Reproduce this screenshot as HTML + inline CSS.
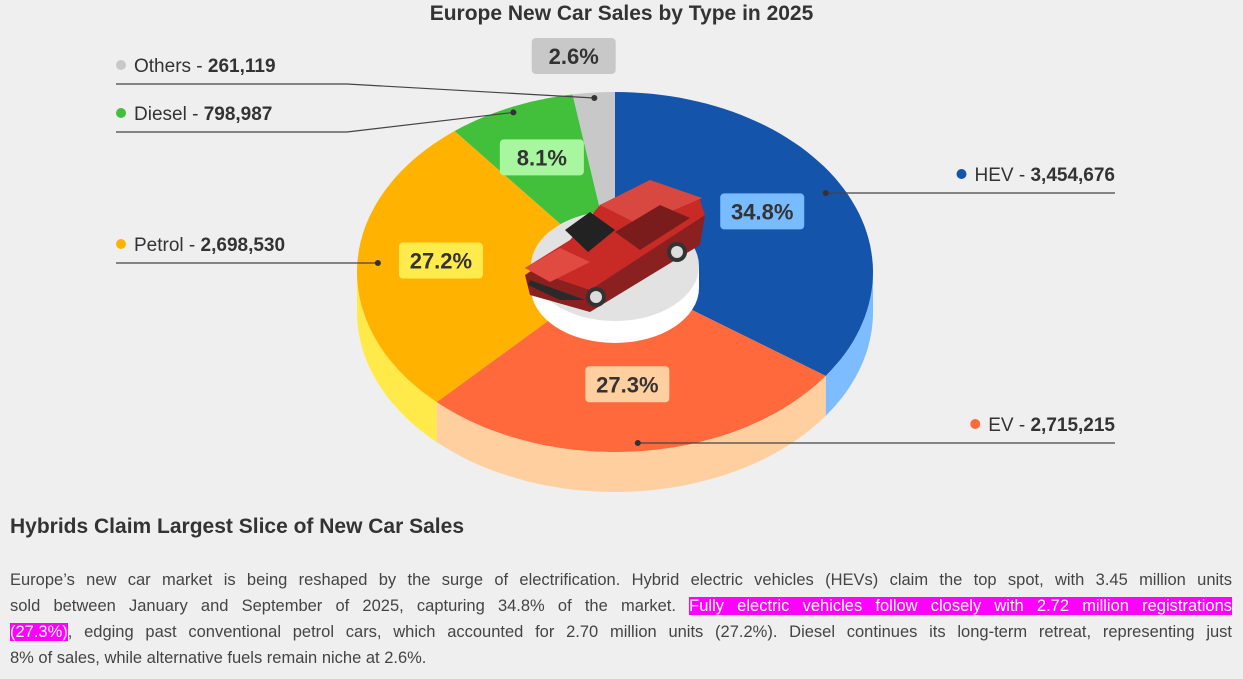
<!DOCTYPE html>
<html><head><meta charset="utf-8">
<style>
body{margin:0;width:1243px;height:679px;background:#efefef;font-family:"Liberation Sans",sans-serif;color:#333;overflow:hidden;position:relative}
#title{position:absolute;top:0;left:0;width:1243px;text-align:center;font-size:21px;font-weight:bold;color:#333;line-height:28px}
#sub{position:absolute;left:10px;top:515px;font-size:21px;font-weight:bold;color:#333}
#para{position:absolute;left:10px;top:567px;width:1222px;font-size:16.5px;color:#444;line-height:26px}
#para div{white-space:nowrap}
.hl{background:#f0f;color:#fff}
svg{position:absolute;left:0;top:0}
</style></head><body>
<div id="title">Europe New Car Sales by Type in 2025</div>
<svg id="chart" width="1243" height="510"></svg>
<div id="sub">Hybrids Claim Largest Slice of New Car Sales</div>
<div id="para">
<div><span style="display:inline-block;width:1222px;text-align:justify;text-align-last:justify;white-space:normal">Europe’s new car market is being reshaped by the surge of electrification. Hybrid electric vehicles (HEVs) claim the top spot, with 3.45 million units</span></div>
<div><span style="display:inline-block;width:1222px;text-align:justify;text-align-last:justify;white-space:normal">sold between January and September of 2025, capturing 34.8% of the market. <span class="hl">Fully electric vehicles follow closely with 2.72 million registrations</span></span></div>
<div><span style="display:inline-block;width:1222px;text-align:justify;text-align-last:justify;white-space:normal"><span class="hl">(27.3%)</span>, edging past conventional petrol cars, which accounted for 2.70 million units (27.2%). Diesel continues its long-term retreat, representing just</span></div>
<div>8% of sales, while alternative fuels remain niche at 2.6%.</div>
</div>
<script>
const categories=["HEV","EV","Petrol","Diesel","Others"];
const units=[3454676,2715215,2698530,798987,261119];
const pctLabels=["34.8%","27.3%","27.2%","8.1%","2.6%"];
const topColors=["#1454ab","#ff693c","#ffb300","#42c03c","#c8c8c8"];
const sideColors=["#7dbdff","#ffcf9f","#ffea4a","#8cd98a","#dddddd"];
const tagColors=["#78bbff","#ffcfa0","#ffec4c","#a8f7a0","#c8c8c8"];
const legendSide=["right","right","left","left","left"];
const legendY=[174,424,244,113,65];

const NS="http://www.w3.org/2000/svg";
const svg=document.getElementById('chart');
const cx=615,cy=272,rx=258,ry=180,depth=40;
const total=units.reduce((a,b)=>a+b,0);
function pt(a,r){return [cx+rx*r*Math.sin(a),cy-ry*r*Math.cos(a)];}
function mk(t,attrs){const e=document.createElementNS(NS,t);for(const k in attrs)e.setAttribute(k,attrs[k]);svg.appendChild(e);return e;}
let acc=0;const starts=[],ends=[];
units.forEach(v=>{starts.push(acc/total*2*Math.PI);acc+=v;ends.push(acc/total*2*Math.PI);});
units.forEach((v,i)=>{
  const s=Math.max(starts[i],Math.PI/2),e=Math.min(ends[i],3*Math.PI/2);
  if(e<=s)return;
  let d="";const N=40;
  for(let k=0;k<=N;k++){const a=s+(e-s)*k/N;const p=pt(a,1);d+=(k?"L":"M")+p[0].toFixed(1)+","+p[1].toFixed(1);}
  for(let k=N;k>=0;k--){const a=s+(e-s)*k/N;const p=pt(a,1);d+="L"+p[0].toFixed(1)+","+(p[1]+depth).toFixed(1);}
  const el=mk('path',{d:d+"Z",fill:sideColors[i]});
  
  
});
units.forEach((v,i)=>{
  let d="M"+cx+","+cy;const N=60;
  for(let k=0;k<=N;k++){const a=starts[i]+(ends[i]-starts[i])*k/N;const p=pt(a,1);d+="L"+p[0].toFixed(1)+","+p[1].toFixed(1);}
  const el=mk('path',{d:d+"Z",fill:topColors[i]});
  
  
});
mk('path',{d:"M531,266 L531,288 A84,55 0 0 0 699,288 L699,266 Z",fill:"#ffffff"});
const ped=mk('ellipse',{cx:615,cy:266,rx:84,ry:55,fill:"#e2e2e2"});


const car=document.createElementNS(NS,'g');svg.appendChild(car);


[["#8a2020","M525,275 L530,295 L590,312 L700,245 L705,215 L660,185 Z"],
 ["#c82a26","M525,268 L570,240 L600,205 L650,180 L700,200 L705,215 L590,290 Z"],
 ["#d94840","M600,205 L650,180 L702,198 L640,225 Z"],
 ["#222","M565,230 L590,212 L615,230 L588,252 Z"],
 ["#7a1c1c","M615,232 L660,205 L690,218 L640,250 Z"],
 ["#e14a40","M525,268 L560,248 L590,262 L550,282 Z"],
 ["#2a2a2a","M528,285 L560,300 L585,300 L530,280 Z"]].forEach(a=>{const p=document.createElementNS(NS,'path');p.setAttribute('d',a[1]);p.setAttribute('fill',a[0]);car.appendChild(p);});
[[596,297],[677,252]].forEach(w=>{const c=document.createElementNS(NS,'circle');c.setAttribute('cx',w[0]);c.setAttribute('cy',w[1]);c.setAttribute('r',10);c.setAttribute('fill','#333');car.appendChild(c);const c2=document.createElementNS(NS,'circle');c2.setAttribute('cx',w[0]);c2.setAttribute('cy',w[1]);c2.setAttribute('r',6);c2.setAttribute('fill','#ddd');car.appendChild(c2);});
units.forEach((v,i)=>{
  const mid=(starts[i]+ends[i])/2;const small=v/total<0.05;const narrow=v/total<0.1;
  let lx,ly;
  if(small){const p=pt(mid,1);lx=p[0]-20;ly=56;}else{const p=pt(mid,0.66);lx=p[0]-4;ly=p[1]-6;}
  const w=84,h=36;
  const r=mk('rect',{x:lx-w/2,y:ly-h/2,width:w,height:h,rx:4,fill:tagColors[i]});
  
  
  const t=mk('text',{x:lx,y:ly+8,'text-anchor':'middle','font-size':22,'font-weight':'bold',fill:'#333'});
  t.textContent=pctLabels[i];
  
  
  const dp=pt(mid,narrow?0.97:0.92);
  const lyLine=legendY[i]+19;
  let d,dotY=dp[1];
  if(legendSide[i]==="right"){
    if(Math.abs(dp[1]-lyLine)<60){d=`M${dp[0]},${lyLine} L1115,${lyLine}`;dotY=lyLine;}
    else d=`M${dp[0]},${dp[1]} L${dp[0]+20},${lyLine} L1115,${lyLine}`;
  } else {
    if(Math.abs(dp[1]-lyLine)<6){d=`M${dp[0]},${lyLine} L116,${lyLine}`;dotY=lyLine;}
    else d=`M${dp[0]},${dp[1]} L347,${lyLine} L116,${lyLine}`;
  }
  const ln=mk('path',{d:d,fill:'none',stroke:'#444','stroke-width':1.2});
  
  
  const dot=mk('circle',{cx:dp[0],cy:dotY,r:3,fill:'#333'});
  
  
  const right=legendSide[i]==="right";
  const tx=right?1115:134;
  const lt=mk('text',{x:tx,y:legendY[i]+7,'text-anchor':right?'end':'start','font-size':19,fill:'#333'});
  lt.textContent=categories[i]+' - ';
  const ts=document.createElementNS(NS,'tspan');ts.setAttribute('font-weight','bold');ts.textContent=v.toLocaleString('en-US');lt.appendChild(ts);
  
  
  let bx=tx-150;try{bx=lt.getBBox().x;}catch(e){}
  const dcx=right?bx-13:121;
  const ld=mk('circle',{cx:dcx,cy:legendY[i],r:5,fill:topColors[i]});
  
  
});
</script>
</body></html>
